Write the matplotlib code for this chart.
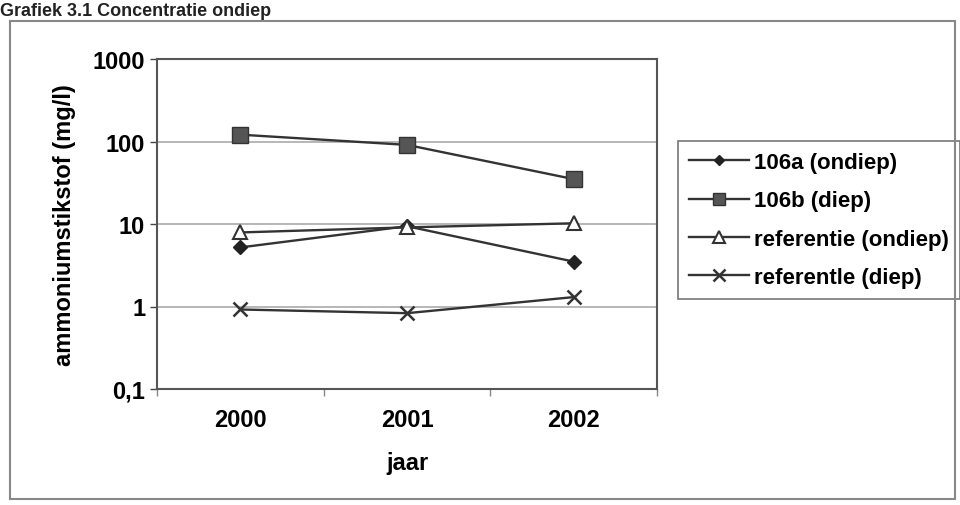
import numpy as np
import matplotlib.pyplot as plt
from matplotlib.patches import Rectangle

# 数据
years = ['2000', '2001', '2002']
a106_ondiep = [5.2, 9.4, 3.5]
b106_diep = [121, 91, 35]
ref_ondiep = [7.9, 9.1, 10.2]
ref_diep = [0.92, 0.83, 1.3]
y_ticks = [0.1, 1, 10, 100, 1000]
y_ticklabels = ['0,1', '1', '10', '100', '1000']

plt.rcParams['font.family'] = ['Liberation Sans', 'DejaVu Sans']
plt.rcParams['font.weight'] = 'bold'

W, H = 960, 506
fig = plt.figure(figsize=(W / 100, H / 100), dpi=100)
ax = fig.add_axes([157 / W, 1 - 390 / H, 500 / W, 330 / H])

x = np.arange(len(years))
line_col = '#333333'
ax.plot(x, a106_ondiep, color=line_col, lw=1.7, marker='D', ms=7, mfc='#222222', mec='#222222', label='106a (ondiep)')
ax.plot(x, b106_diep, color=line_col, lw=1.7, marker='s', ms=11, mfc='#555555', mec='#333333', label='106b (diep)')
ax.plot(x, ref_ondiep, color=line_col, lw=1.7, marker='^', ms=10, mfc='white', mec='#333333', mew=1.5, label='referentie (ondiep)')
ax.plot(x, ref_diep, color=line_col, lw=1.7, marker='x', ms=10, mec='#333333', mew=1.8, label='referentle (diep)')

ax.set_yscale('log')
ax.set_ylim(0.1, 1000)
ax.set_xlim(-0.5, 2.5)
ax.set_yticks(y_ticks)
ax.set_yticklabels(y_ticklabels)
ax.minorticks_off()
ax.set_xticks(x)
ax.set_xticklabels(years)
ax.tick_params(axis='x', length=0, pad=14, labelsize=17)
ax.tick_params(axis='y', length=5, width=1, direction='out', labelsize=17, color='#444444')
# 类别之间的刻度线
ax.set_xticks([-0.5, 0.5, 1.5, 2.5], minor=True)
ax.tick_params(axis='x', which='minor', length=5, width=1, direction='out', color='#888888')

ax.grid(axis='y', which='major', color='#aaaaaa', lw=1.2)
ax.set_axisbelow(True)
for s in ax.spines.values():
    s.set_color('#555555')
    s.set_linewidth(1.5)

ax.set_ylabel('ammoniumstikstof (mg/l)', fontsize=17, fontweight='bold', labelpad=12)
ax.set_xlabel('jaar', fontsize=17, fontweight='bold', labelpad=14)

leg = ax.legend(loc='upper left', bbox_to_anchor=(678 / W, 1 - 142 / H), bbox_transform=fig.transFigure,
                borderaxespad=0, fancybox=False, edgecolor='#777777', framealpha=1, fontsize=16,
                handlelength=2.7, handletextpad=0.2, labelspacing=0.78, borderpad=0.5, markerscale=0.8)
leg.get_frame().set_linewidth(1.2)

# 图表外框
fig.patches.append(Rectangle((10 / W, 1 - 500 / H), 945 / W, 478 / H, transform=fig.transFigure,
                             fill=False, edgecolor='#888888', lw=1.5))

# 标题（原图顶部被裁切）
fig.text(0.0, 1 - 16 / H, 'Grafiek 3.1 Concentratie ondiep', fontsize=13, fontweight='bold',
         va='baseline', ha='left', color='#222222')

fig.savefig('out.png', dpi=100)
